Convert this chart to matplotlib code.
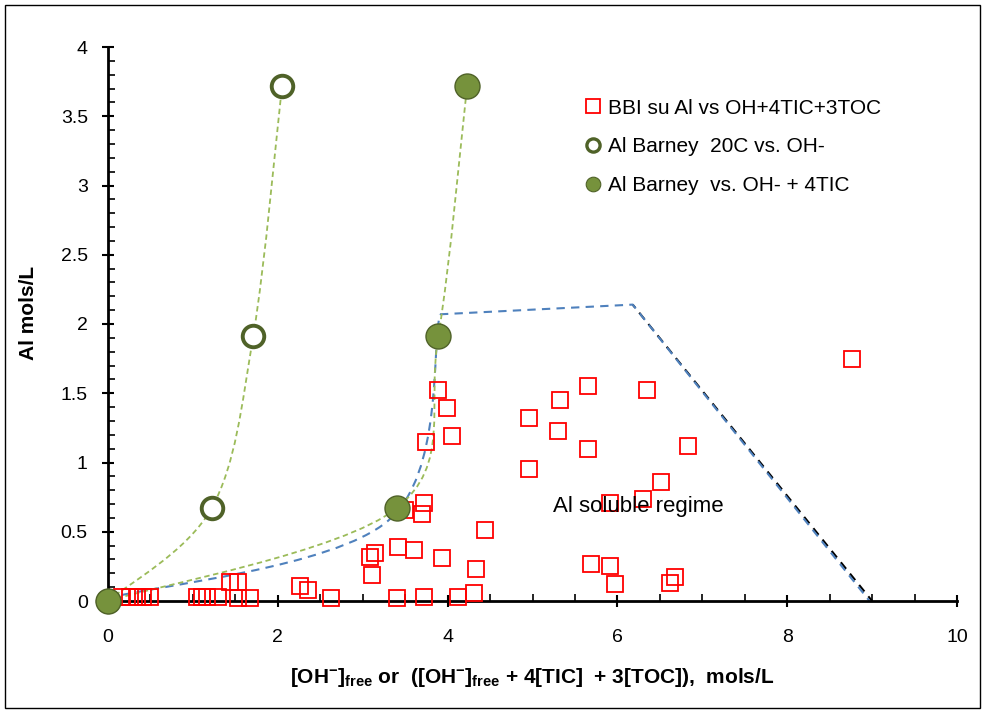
import numpy as np
import matplotlib.pyplot as plt
from matplotlib.path import Path
from matplotlib.lines import Line2D
import matplotlib.patches as mpatches
from matplotlib.ticker import MultipleLocator

plt.rcParams['font.family'] = ['Liberation Sans', 'DejaVu Sans']
plt.rcParams['mathtext.fontset'] = 'custom'
plt.rcParams['mathtext.rm'] = 'Liberation Sans'
plt.rcParams['mathtext.bf'] = 'Liberation Sans:bold'
plt.rcParams['mathtext.it'] = 'Liberation Sans:italic'

# BBI supernatant Al vs OH + 4TIC + 3TOC
bbi_x = [8.76, 3.89, 3.99, 4.05, 3.75, 4.96, 5.32, 5.65, 6.35, 5.30, 5.65, 6.83,
         4.96, 6.51, 6.30, 5.91, 3.72, 3.70, 3.50, 4.44, 3.41, 3.60, 3.15, 3.09,
         3.11, 3.93, 4.33, 5.69, 5.91, 5.97, 6.62, 6.68, 2.26, 2.36, 2.63, 3.40,
         3.72, 4.12, 4.31, 1.44, 1.53, 1.05, 1.11, 1.17, 1.30, 1.53, 1.67,
         0.16, 0.26, 0.34, 0.41, 0.49]
bbi_y = [1.75, 1.52, 1.39, 1.19, 1.15, 1.32, 1.45, 1.55, 1.52, 1.23, 1.10, 1.12,
         0.95, 0.86, 0.74, 0.71, 0.71, 0.63, 0.66, 0.51, 0.39, 0.37, 0.35, 0.32,
         0.19, 0.31, 0.23, 0.27, 0.25, 0.12, 0.13, 0.17, 0.11, 0.08, 0.02, 0.02,
         0.03, 0.03, 0.06, 0.14, 0.14, 0.03, 0.03, 0.03, 0.03, 0.02, 0.02,
         0.03, 0.03, 0.03, 0.03, 0.03]

# Barney 20C vs OH-
barney_oh_x = [0.0, 1.22, 1.71, 2.05]
barney_oh_y = [0.0, 0.67, 1.91, 3.72]

# Barney vs OH- + 4TIC
barney_tic_x = [0.0, 3.40, 3.89, 4.23]
barney_tic_y = [0.0, 0.67, 1.91, 3.72]

# soluble regime boundary
bound_curve_x = [0.0, 3.30, 3.91]
bound_curve_y = [0.02, 0.58, 2.07]
bound_line_x = [3.91, 6.18, 8.97]
bound_line_y = [2.07, 2.14, 0.0]
bound_black_x = [6.18, 9.0]
bound_black_y = [2.14, 0.0]

labels = ['BBI su Al vs OH+4TIC+3TOC', 'Al Barney  20C vs. OH-', 'Al Barney  vs. OH- + 4TIC']


def smooth_path(xs, ys):
    # Excel-like smoothed line: cubic Bezier through each point
    p = np.column_stack([xs, ys]).astype(float)
    n = len(p)
    verts = [p[0]]
    codes = [Path.MOVETO]
    for i in range(n - 1):
        p0 = p[max(i - 1, 0)]
        p1 = p[i]
        p2 = p[i + 1]
        p3 = p[min(i + 2, n - 1)]
        c1 = p1 + (p2 - p0) / 6.0
        c2 = p2 - (p3 - p1) / 6.0
        verts += [c1, c2, p2]
        codes += [Path.CURVE4] * 3
    return Path(verts, codes)


fig = plt.figure(figsize=(9.85, 7.13), dpi=100)
ax = fig.add_axes([108 / 985, 112 / 713, 849 / 985, 554 / 713])

green = '#9BBB59'
olive_edge = '#4F6228'
olive_fill = '#76923C'
blue = '#4F81BD'
red = '#FF0000'

for xs, ys in [(barney_oh_x, barney_oh_y), (barney_tic_x, barney_tic_y)]:
    ax.add_patch(mpatches.PathPatch(smooth_path(xs, ys), fill=False, edgecolor=green,
                                    lw=1.3, ls=(0, (3, 2)), zorder=3))

ax.add_patch(mpatches.PathPatch(smooth_path(bound_curve_x, bound_curve_y), fill=False,
                                edgecolor=blue, lw=1.5, ls=(0, (4, 3)), zorder=2))
ax.plot(bound_black_x, bound_black_y, color='black', lw=1.5, ls=(2, (4, 3)), zorder=2)
ax.plot(bound_line_x, bound_line_y, color=blue, lw=1.5, ls=(0, (4, 3)), zorder=2)

ax.plot(bbi_x, bbi_y, ls='none', marker='s', ms=11.5, mfc='none', mec=red,
        mew=1.3, zorder=4)
ax.plot(barney_oh_x, barney_oh_y, ls='none', marker='o', ms=15.5, mfc='white',
        mec=olive_edge, mew=2.8, zorder=5)
ax.plot(barney_tic_x, barney_tic_y, ls='none', marker='o', ms=18, mfc=olive_fill,
        mec=olive_edge, mew=1.0, zorder=6)

ax.text(5.24, 0.68, 'Al soluble regime', fontsize=16, ha='left', va='center', zorder=7)

ax.set_xlim(0, 10)
ax.set_ylim(0, 4)
ax.xaxis.set_major_locator(MultipleLocator(2))
ax.xaxis.set_minor_locator(MultipleLocator(0.5))
ax.yaxis.set_major_locator(MultipleLocator(0.5))
ax.yaxis.set_minor_locator(MultipleLocator(0.1))
ax.yaxis.set_major_formatter(plt.FuncFormatter(lambda v, p: '%g' % v))
ax.xaxis.set_major_formatter(plt.FuncFormatter(lambda v, p: '%g' % v))

for side in ['top', 'right']:
    ax.spines[side].set_visible(False)
for side in ['left', 'bottom']:
    ax.spines[side].set_linewidth(2)
ax.tick_params(which='major', direction='inout', length=9, width=1.5, labelsize=14)
ax.tick_params(which='minor', direction='in', length=5, width=1.2)
ax.tick_params(axis='x', which='major', pad=16)
ax.tick_params(axis='y', which='major', pad=10)
for art in ax.lines + ax.patches:
    art.set_clip_on(False)

ax.set_xlabel(r'[OH$^{\mathbf{-}}$]$_{\mathbf{free}}$ or  ([OH$^{\mathbf{-}}$]$_{\mathbf{free}}$'
              r' + 4[TIC]  + 3[TOC]),  mols/L', fontsize=15, fontweight='bold', labelpad=14)
ax.set_ylabel('Al mols/L', fontsize=15, fontweight='bold')
ax.yaxis.set_label_coords(-0.082, 0.52)

handles = [
    Line2D([], [], ls='none', marker='s', ms=10, mfc='none', mec=red, mew=1.3),
    Line2D([], [], ls='none', marker='o', ms=9.5, mfc='white', mec=olive_edge, mew=2.4),
    Line2D([], [], ls='none', marker='o', ms=10.5, mfc=olive_fill, mec=olive_edge, mew=0.8),
]
ax.legend(handles, labels, loc='upper left', bbox_to_anchor=(0.553, 0.922), frameon=False,
          fontsize=15, handlelength=0.7, handletextpad=0.35, labelspacing=0.95,
          borderaxespad=0)

fig.patches.append(mpatches.Rectangle((5 / 985, 5 / 713), 975 / 985, 703 / 713,
                                      transform=fig.transFigure, fill=False,
                                      edgecolor='black', lw=1.0))

fig.savefig('out.png', dpi=100)
